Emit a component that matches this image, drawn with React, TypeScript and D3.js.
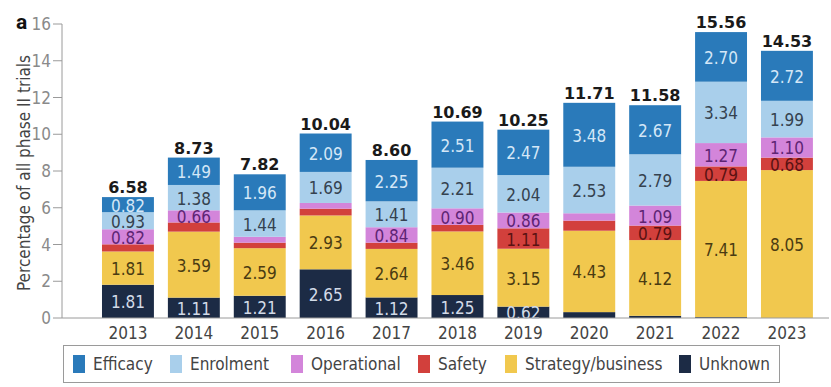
import * as d3 from 'd3'

const years = ['2013', '2014', '2015', '2016', '2017', '2018', '2019', '2020', '2021', '2022', '2023']
const efficacy = [0.82, 1.49, 1.96, 2.09, 2.25, 2.51, 2.47, 3.48, 2.67, 2.70, 2.72]
const enrolment = [0.93, 1.38, 1.44, 1.69, 1.41, 2.21, 2.04, 2.53, 2.79, 3.34, 1.99]
const operational = [0.82, 0.66, 0.32, 0.31, 0.84, 0.90, 0.86, 0.40, 1.09, 1.27, 1.10]
const safety = [0.39, 0.50, 0.30, 0.37, 0.34, 0.36, 1.11, 0.55, 0.79, 0.79, 0.68]
const strategy = [1.81, 3.59, 2.59, 2.93, 2.64, 3.46, 3.15, 4.43, 4.12, 7.41, 8.05]
const unknown = [1.81, 1.11, 1.21, 2.65, 1.12, 1.25, 0.62, 0.32, 0.12, 0.05, 0.0]
const totals = [6.58, 8.73, 7.82, 10.04, 8.60, 10.69, 10.25, 11.71, 11.58, 15.56, 14.53]
const yTicks = [0, 2, 4, 6, 8, 10, 12, 14, 16]

// bottom to top
const series = [
  {key: 'Unknown', values: unknown, fill: '#1c2b45', text: '#d3dbe8'},
  {key: 'Strategy/business', values: strategy, fill: '#f1c84e', text: '#4a3b12'},
  {key: 'Safety', values: safety, fill: '#d2403c', text: '#5a1212'},
  {key: 'Operational', values: operational, fill: '#d385da', text: '#5e2474'},
  {key: 'Enrolment', values: enrolment, fill: '#a9cfeb', text: '#35424f'},
  {key: 'Efficacy', values: efficacy, fill: '#2a7aba', text: '#d4e7f7'},
]
const legendOrder = ['Efficacy', 'Enrolment', 'Operational', 'Safety', 'Strategy/business', 'Unknown']
const legendX = [73, 170, 291, 418, 505, 679]

const narrow = '"Liberation Sans Narrow", "DejaVu Sans Condensed", Roboto, sans-serif'

export default function App() {
  const width = 831
  const height = 387
  const axisX = 62
  const x = d3.scaleBand<string>().domain(years).range([95.4, 819.5]).paddingInner(0.212).paddingOuter(0.1)
  const y = d3.scaleLinear().domain([0, 16]).range([318, 24])

  const table = years.map((yr, i) => {
    const row: Record<string, number | string> = {year: yr}
    series.forEach(s => (row[s.key] = s.values[i]))
    return row
  })
  const stacked = d3.stack<Record<string, number | string>>().keys(series.map(s => s.key))(table as any)

  return (
    <svg width={width} height={height} style={{position: 'absolute', left: 0, top: 0, background: '#fff'}}>
      <text x={16} y={29} fontFamily="Roboto, sans-serif" fontWeight={700} fontSize={21} fill="#111">a</text>
      <text transform={`translate(24,${y(8) + 2}) rotate(-90)`} textAnchor="middle" dominantBaseline="central"
            fontFamily={narrow} fontSize={17} fill="#444">Percentage of all phase II trials</text>
      <line x1={axisX} x2={axisX} y1={y(16)} y2={y(0)} stroke="#9a9a9a" strokeWidth={1}/>
      {yTicks.map(t => (
        <g key={t}>
          <line x1={axisX - 9} x2={axisX} y1={y(t)} y2={y(t)} stroke="#9a9a9a"/>
          <text x={axisX - 11} y={y(t)} textAnchor="end" dominantBaseline="central" fontFamily={narrow}
                fontSize={17} fill="#8a8a8a">{t}</text>
        </g>
      ))}
      {stacked.map((layer, li) => (
        <g key={layer.key} fill={series[li].fill}>
          {layer.map((d, i) => (
            <rect key={i} x={x(years[i])} width={x.bandwidth()} y={y(d[1])} height={Math.max(0, y(d[0]) - y(d[1]))}/>
          ))}
        </g>
      ))}
      {stacked.map((layer, li) => (
        <g key={layer.key + 'l'}>
          {layer.map((d, i) => {
            const v = d[1] - d[0]
            if (v < 0.6) return null
            return (
              <text key={i} x={(x(years[i]) ?? 0) + x.bandwidth() / 2} y={y((d[0] + d[1]) / 2) + 1}
                    textAnchor="middle" dominantBaseline="central" fontFamily={narrow} fontSize={17}
                    fill={series[li].text}>{series[li].values[i].toFixed(2)}</text>
            )
          })}
        </g>
      ))}
      {totals.map((t, i) => (
        <text key={i} x={(x(years[i]) ?? 0) + x.bandwidth() / 2} y={y(t) - 4} textAnchor="middle"
              fontFamily='"DejaVu Sans", sans-serif' fontWeight={700} fontSize={16} fill="#1a1a1a">{t.toFixed(2)}</text>
      ))}
      <line x1={axisX} x2={829} y1={y(0)} y2={y(0)} stroke="#9a9a9a"/>
      {years.map(yr => (
        <text key={yr} x={(x(yr) ?? 0) + x.bandwidth() / 2} y={339} textAnchor="middle" fontFamily={narrow}
              fontSize={17} fill="#444">{yr}</text>
      ))}
      <rect x={63.5} y={345.5} width={716} height={37} fill="#fff" stroke="#9a9a9a"/>
      {legendOrder.map((k, i) => {
        const s = series.find(d => d.key === k)!
        return (
          <g key={k}>
            <rect x={legendX[i]} y={355} width={12} height={18} fill={s.fill}/>
            <text x={legendX[i] + 20} y={370} fontFamily={narrow} fontSize={17} fill="#444">{k}</text>
          </g>
        )
      })}
    </svg>
  )
}
